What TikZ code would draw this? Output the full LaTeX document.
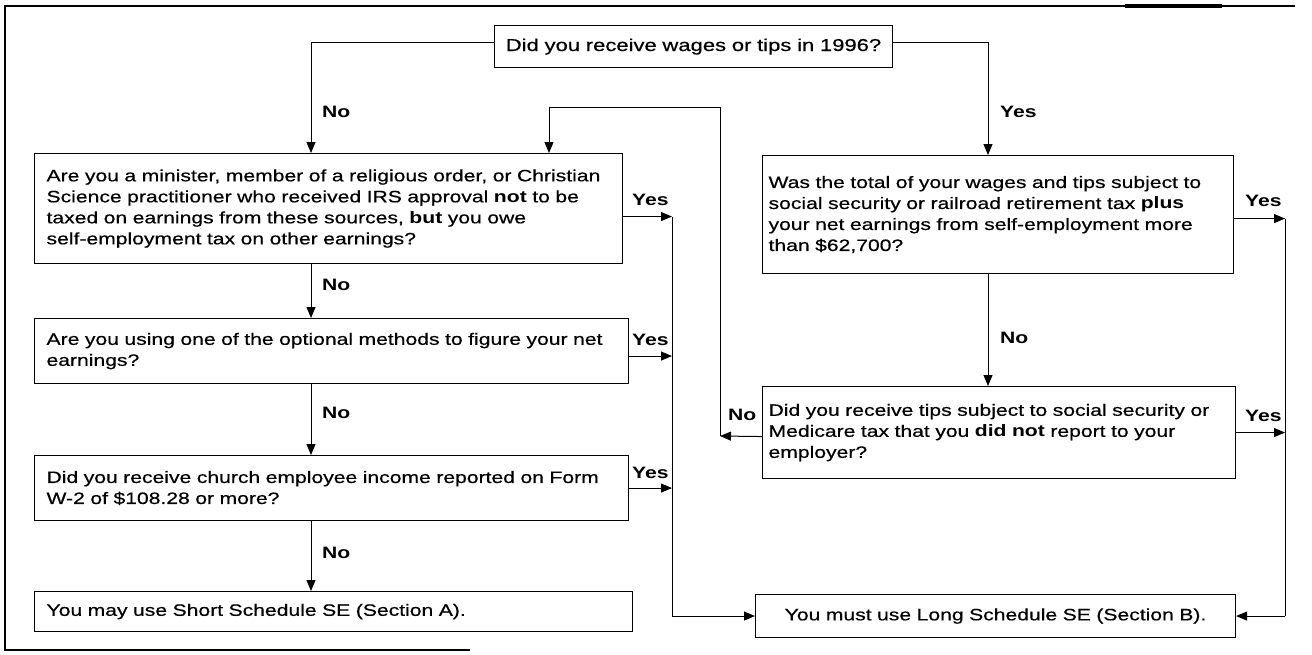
\documentclass[tikz,border=0pt]{standalone}
\usepackage{fontspec}
\setmainfont[FakeStretch=1.28, UprightFeatures={FakeBold=0.5}]{Liberation Sans}
\usetikzlibrary{arrows.meta}
\newcommand\qboxfont{\fontsize{16.5}{21}\selectfont}
\newcommand\qtopfont{\fontsize{17.2}{21}\selectfont}
\newcommand\qlabfont{\fontsize{16.5}{20}\selectfont\bfseries}
\begin{document}
\begin{tikzpicture}[x=1pt,y=-1pt,
  box/.style={draw, line width=1.1pt, anchor=north west, align=left, inner ysep=0pt, inner xsep=12pt, font=\qboxfont},
  rbox/.style={box, inner xsep=6pt},
  lab/.style={font=\qlabfont, anchor=west, inner sep=0pt},
  ln/.style={line width=1pt},
  arr/.style={line width=1pt, -{Triangle[length=11pt,width=9pt]}}]
\fill[white] (0,0) rectangle (1312,654);
\useasboundingbox (0,0) rectangle (1312,654);
% frame
\draw[line width=1.2pt] (1295,6) -- (5,6) -- (5,650) -- (470,650);
\draw[line width=3.5pt] (1125,6) -- (1222,6);
% boxes
\node[box, inner xsep=5pt, align=center, text width=388pt, minimum height=42pt, font=\qtopfont] (top) at (494,25) {Did you receive wages or tips in 1996?};
\node[box, text width=564pt, minimum height=110pt] (b1) at (34,153) {Are you a minister, member of a religious order, or Christian\\Science practitioner who received IRS approval \textbf{not} to be\\taxed on earnings from these sources, \textbf{but} you owe\\self-employment tax on other earnings?};
\node[box, text width=570pt, minimum height=65pt] (b2) at (34,318) {Are you using one of the optional methods to figure your net\\earnings?};
\node[box, text width=570pt, minimum height=65pt] (b3) at (34,455) {Did you receive church employee income reported on Form\\W-2 of \$108.28 or more?};
\node[box, text width=574pt, minimum height=40pt] (b4) at (34,591) {You may use Short Schedule SE (Section A).};
\node[rbox, text width=459pt, minimum height=118pt] (r1) at (762,155) {Was the total of your wages and tips subject to\\social security or railroad retirement tax \textbf{plus}\\your net earnings from self-employment more\\than \$62,700?};
\node[rbox, text width=461pt, minimum height=92pt] (tips) at (762,386) {Did you receive tips subject to social security or\\Medicare tax that you \textbf{did not} report to your\\employer?};
\node[box, align=center, text width=456pt, minimum height=43pt] (long) at (755,594) {You must use Long Schedule SE (Section B).};
% helper coordinates
\coordinate (cL) at (311,0);
\coordinate (cR) at (988,0);
\coordinate (cY) at (672,0);
\coordinate (cY2) at (1285,0);
\coordinate (lp) at (720,436);
\coordinate (lt) at (720,107);
\coordinate (lt2) at (549,107);
\coordinate (tw) at ([yshift=4pt]top.west);
\coordinate (te) at ([yshift=4pt]top.east);
\coordinate (y1) at ([yshift=-8pt]b1.east);
\coordinate (y2) at ([yshift=-5pt]b2.east);
\coordinate (y3) at (b3.east);
\coordinate (y4) at ([yshift=-4pt]r1.east);
\coordinate (tn) at ([yshift=-4pt]tips.west);
% connectors
\draw[arr] (tw) -| (cL |- b1.north);
\draw[arr] (te) -| (cR |- r1.north);
\draw[arr] (cL |- b1.south) -- (cL |- b2.north);
\draw[arr] (cL |- b2.south) -- (cL |- b3.north);
\draw[arr] (cL |- b3.south) -- (cL |- b4.north);
\draw[arr] (cR |- r1.south) -- (cR |- tips.north);
\draw[arr] (y1) -- (y1 -| cY);
\draw[arr] (y2) -- (y2 -| cY);
\draw[arr] (y3) -- (y3 -| cY);
\draw[ln] (y1 -| cY) -- (long.west -| cY);
\draw[arr] (long.west -| cY) -- (long.west);
\draw[arr] (y4) -- (y4 -| cY2);
\draw[arr] (tips.east) -- (tips.east -| cY2);
\draw[ln] (y4 -| cY2) -- (long.east -| cY2);
\draw[arr] (long.east -| cY2) -- (long.east);
\draw[arr] (tn) -- (lp);
\draw[arr] (lp) -- (lt) -- (lt2) -- (lt2 |- b1.north);
% labels
\node[lab] (n1) at (322,112) {No};
\node[lab] (y0) at (1000,112) {Yes};
\node[lab] (n2) at (322,285) {No};
\node[lab] (n3) at (322,413) {No};
\node[lab] (n4) at (322,553) {No};
\node[lab] (n5) at (1000,338) {No};
\node[lab] (n6) at (728,415) {No};
\node[lab] (ya) at (632,200) {Yes};
\node[lab] (yb) at (632,340) {Yes};
\node[lab] (yc) at (632,473) {Yes};
\node[lab] (yd) at (1245,201) {Yes};
\node[lab] (ye) at (1245,416) {Yes};
\end{tikzpicture}
\end{document}
